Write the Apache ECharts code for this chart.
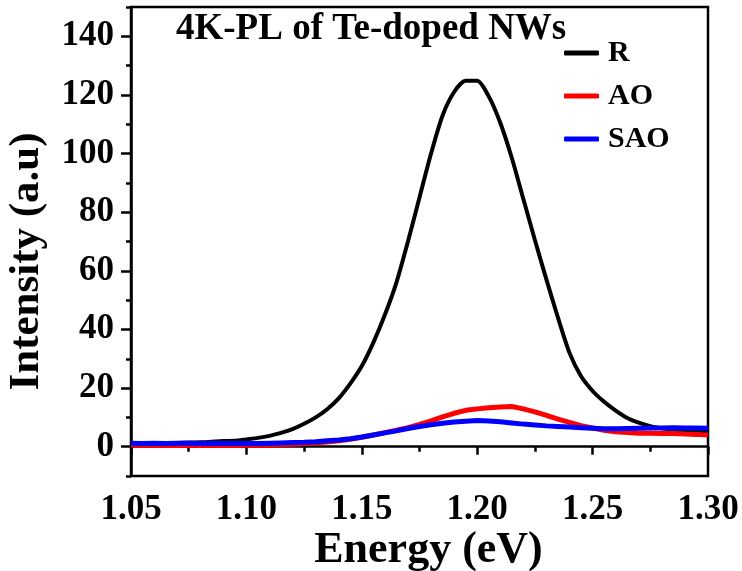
<!DOCTYPE html>
<html>
<head>
<meta charset="utf-8">
<script src="https://cdn.jsdelivr.net/npm/echarts@6/dist/echarts.min.js"></script>
<style>
  html, body { margin: 0; padding: 0; background: #fff; }
  #chart { width: 742px; height: 571px; }
</style>
</head>
<body>
<div id="chart"></div>
<script>
// photon energy (eV), step 0.005
const energy = [
  1.050, 1.055, 1.060, 1.065, 1.070, 1.075, 1.080, 1.085, 1.090, 1.095,
  1.100, 1.105, 1.110, 1.115, 1.120, 1.125, 1.130, 1.135, 1.140, 1.145,
  1.150, 1.155, 1.160, 1.165, 1.170, 1.175, 1.180, 1.185, 1.190, 1.195,
  1.200, 1.205, 1.210, 1.215, 1.220, 1.225, 1.230, 1.235, 1.240, 1.245,
  1.250, 1.255, 1.260, 1.265, 1.270, 1.275, 1.280, 1.285, 1.290, 1.295,
  1.300
];
const rIntensity = [
  1.0, 1.0, 1.1, 1.2, 1.3, 1.4, 1.5, 1.7, 1.9, 2.0,
  2.5, 3.0, 3.7, 4.7, 6.0, 7.8, 10.0, 12.8, 16.5, 21.5,
  27.5, 35.5, 45.0, 56.0, 70.0, 85.0, 100.0, 113.0, 121.0, 124.8,
  124.8, 119.5, 110.5, 98.5, 84.5, 70.5, 57.0, 44.0, 32.0, 24.0,
  19.0, 15.3, 12.3, 9.8, 8.2, 7.0, 6.3, 5.8, 5.5, 5.3,
  5.2
];
const aoIntensity = [
  0.6, 0.5, 0.4, 0.5, 0.4, 0.5, 0.4, 0.5, 0.4, 0.4,
  0.5, 0.5, 0.6, 0.7, 0.8, 1.0, 1.3, 1.6, 2.0, 2.5,
  3.2, 4.0, 4.8, 5.6, 6.5, 7.6, 8.8, 10.2, 11.4, 12.4,
  12.9, 13.3, 13.5, 13.7, 12.9, 11.9, 10.7, 9.4, 8.3, 7.2,
  6.4, 5.6, 5.1, 4.8, 4.6, 4.6, 4.5, 4.5, 4.3, 4.2,
  4.0
];
const saoIntensity = [
  1.2, 1.1, 1.2, 1.1, 1.2, 1.2, 1.1, 1.2, 1.1, 1.1,
  1.1, 1.1, 1.2, 1.3, 1.4, 1.5, 1.7, 2.0, 2.3, 2.7,
  3.3, 4.0, 4.7, 5.4, 6.2, 6.9, 7.5, 8.0, 8.4, 8.7,
  8.9, 8.8, 8.5, 8.1, 7.7, 7.4, 7.1, 6.9, 6.7, 6.5,
  6.3, 6.1, 6.1, 6.2, 6.3, 6.4, 6.4, 6.5, 6.4, 6.4,
  6.3
];
const seriesNames = ['R', 'AO', 'SAO'];
const yTickLabels = [0, 20, 40, 60, 80, 100, 120, 140];

const font = "'Liberation Serif', 'DejaVu Serif', serif";
const pair = (ys) => energy.map((x, i) => [x, ys[i]]);

const chart = echarts.init(document.getElementById('chart'));

chart.setOption({
  animation: false,
  title: {
    text: '4K-PL of Te-doped NWs',
    left: 171,
    top: 6,
    textStyle: { fontFamily: font, fontWeight: 'bold', fontSize: 37, color: '#000' }
  },
  legend: {
    data: seriesNames,
    orient: 'vertical',
    left: 559,
    top: 33,
    itemWidth: 35,
    itemHeight: 5,
    itemGap: 13,
    icon: 'roundRect',
    textStyle: {
      fontFamily: font, fontWeight: 'bold', fontSize: 30, color: '#000',
      padding: [0, 0, 0, 4]
    }
  },
  grid: {
    left: 131,
    right: 34,
    top: 7,
    bottom: 95,
    outerBoundsMode: 'none',
    show: true,
    borderColor: '#000',
    borderWidth: 2.5
  },
  xAxis: {
    type: 'value',
    min: 1.05,
    max: 1.30,
    interval: 0.05,
    name: 'Energy (eV)',
    nameLocation: 'middle',
    nameMoveOverlap: false,
    nameGap: 53,
    nameTextStyle: {
      fontFamily: font, fontWeight: 'bold', fontSize: 44, color: '#000',
      padding: [0, 0, 0, 18]
    },
    axisLine: { lineStyle: { color: '#000', width: 2.5 } },
    axisTick: { length: 8, lineStyle: { color: '#000', width: 2.5 } },
    minorTick: { show: true, splitNumber: 2, length: 5, lineStyle: { color: '#000', width: 2.5 } },
    splitLine: { show: false },
    axisLabel: {
      margin: 16,
      fontFamily: font, fontWeight: 'bold', fontSize: 35, color: '#000',
      formatter: (v) => v.toFixed(2)
    }
  },
  yAxis: [
    {
      type: 'value',
      min: -10,
      max: 150,
      interval: 10,
      name: 'Intensity (a.u)',
      nameLocation: 'middle',
      nameGap: 83,
      nameTextStyle: {
        fontFamily: font, fontWeight: 'bold', fontSize: 43, color: '#000',
        padding: [0, 40, 0, 0]
      },
      axisLine: { lineStyle: { color: '#000', width: 2.5 } },
      axisTick: { length: 5, lineStyle: { color: '#000', width: 2.5 } },
      splitLine: { show: false },
      axisLabel: {
        customValues: yTickLabels,
        margin: 17,
        fontFamily: font, fontWeight: 'bold', fontSize: 35, color: '#000'
      }
    },
    {
      type: 'value',
      min: -10,
      max: 150,
      interval: 10,
      position: 'left',
      axisLine: { show: false },
      axisTick: { customValues: yTickLabels, length: 10, lineStyle: { color: '#000', width: 2.5 } },
      axisLabel: { show: false },
      splitLine: { show: false }
    }
  ],
  series: [
    {
      name: 'R', type: 'line', data: pair(rIntensity), showSymbol: false,
      smooth: 0.25,
      lineStyle: { color: '#000', width: 4 }, itemStyle: { color: '#000' }
    },
    {
      name: 'AO', type: 'line', data: pair(aoIntensity), showSymbol: false,
      lineStyle: { color: '#ff0000', width: 5 }, itemStyle: { color: '#ff0000' }
    },
    {
      name: 'SAO', type: 'line', data: pair(saoIntensity), showSymbol: false,
      lineStyle: { color: '#0000ff', width: 5 }, itemStyle: { color: '#0000ff' }
    }
  ]
});
</script>
</body>
</html>
